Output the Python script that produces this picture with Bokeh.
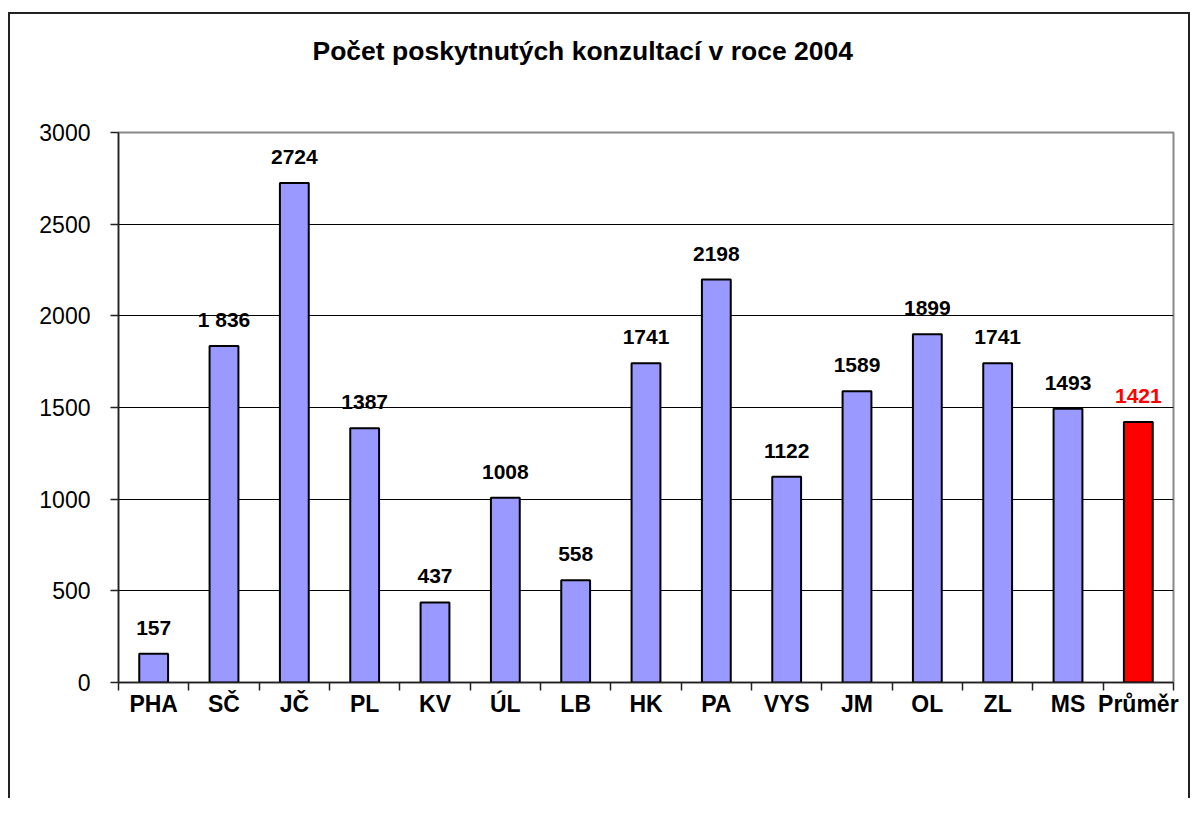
from bokeh.plotting import figure
from bokeh.models import ColumnDataSource, FixedTicker, Range1d, Title
from bokeh.embed import file_html
from bokeh.resources import INLINE
from bokeh.core.properties import value

# ---- data ----
categories = ["PHA", "SČ", "JČ", "PL", "KV", "ÚL", "LB", "HK", "PA", "VYS", "JM", "OL", "ZL", "MS", "Průměr"]
counts = [157, 1836, 2724, 1387, 437, 1008, 558, 1741, 2198, 1122, 1589, 1899, 1741, 1493, 1421]
value_labels = ["157", "1 836", "2724", "1387", "437", "1008", "558", "1741", "2198",
                "1122", "1589", "1899", "1741", "1493", "1421"]
y_ticks = [0, 500, 1000, 1500, 2000, 2500, 3000]
title_text = "Počet poskytnutých konzultací v roce 2004"

FONT = "Liberation Sans"
n = len(categories)
centers = [i + 0.5 for i in range(n)]
bar_colors = ["#9999FF"] * (n - 1) + ["#FF0000"]
label_colors = ["#000000"] * (n - 1) + ["#FF0000"]

src = ColumnDataSource(dict(x=centers, top=counts, label=value_labels,
                            color=bar_colors, lcolor=label_colors))

p = figure(width=1182, height=786,
           x_range=Range1d(0, n), y_range=Range1d(y_ticks[0], y_ticks[-1]),
           output_backend="svg", toolbar_location=None,
           min_border_left=108, min_border_right=19,
           min_border_top=118, min_border_bottom=118,
           background_fill_color="white", border_fill_color="white",
           styles={"border-left": "2px solid #222", "border-top": "2px solid #222",
                   "border-right": "2px solid #222",
                   "margin-top": "12px", "margin-left": "8px"})

# spacer between plot frame and title (nearest to the frame)
p.add_layout(Title(text=" ", standoff=64, text_font_size="1px"), "above")
p.add_layout(Title(text=title_text, align="left", offset=194, vertical_align="bottom",
                   standoff=0,
                   text_font=FONT, text_font_size="26.5px", text_font_style="bold",
                   text_color="black"), "above")

p.vbar(x="x", top="top", width=0.41, source=src, fill_color="color",
       line_color="black", line_width=2)

p.text(x="x", y="top", text="label", source=src, text_color="lcolor",
       text_align="center", text_baseline="alphabetic", y_offset=-26,
       text_font=value(FONT), text_font_style="bold", text_font_size="21px")

# axes
p.xaxis.ticker = FixedTicker(ticks=centers, minor_ticks=list(range(n + 1)))
p.xaxis.major_label_overrides = {c: lab for c, lab in zip(centers, categories)}
p.xaxis.major_tick_out = 0
p.xaxis.major_tick_in = 0
p.xaxis.minor_tick_out = 8
p.xaxis.minor_tick_in = 0
p.xaxis.minor_tick_line_color = "#222"
p.xaxis.minor_tick_line_width = 1.5
p.xaxis.axis_line_color = "#222"
p.xaxis.axis_line_width = 1.5
p.xaxis.major_label_text_font = FONT
p.xaxis.major_label_text_font_size = "23px"
p.xaxis.major_label_text_font_style = "bold"
p.xaxis.major_label_text_color = "black"
p.xaxis.major_label_standoff = 0

p.yaxis.ticker = FixedTicker(ticks=y_ticks, minor_ticks=[])
p.yaxis.major_tick_out = 8
p.yaxis.major_tick_in = 0
p.yaxis.major_tick_line_color = "#222"
p.yaxis.major_tick_line_width = 1.5
p.yaxis.axis_line_color = "#222"
p.yaxis.axis_line_width = 1.5
p.yaxis.major_label_text_font = FONT
p.yaxis.major_label_text_font_size = "23px"
p.yaxis.major_label_text_color = "black"
p.yaxis.major_label_standoff = 20

p.xgrid.visible = False
p.ygrid.ticker = FixedTicker(ticks=y_ticks[1:-1])
p.ygrid.grid_line_color = "black"
p.ygrid.grid_line_width = 1

p.outline_line_color = "#888888"
p.outline_line_width = 2

open("out.html", "w").write(file_html(p, INLINE))
